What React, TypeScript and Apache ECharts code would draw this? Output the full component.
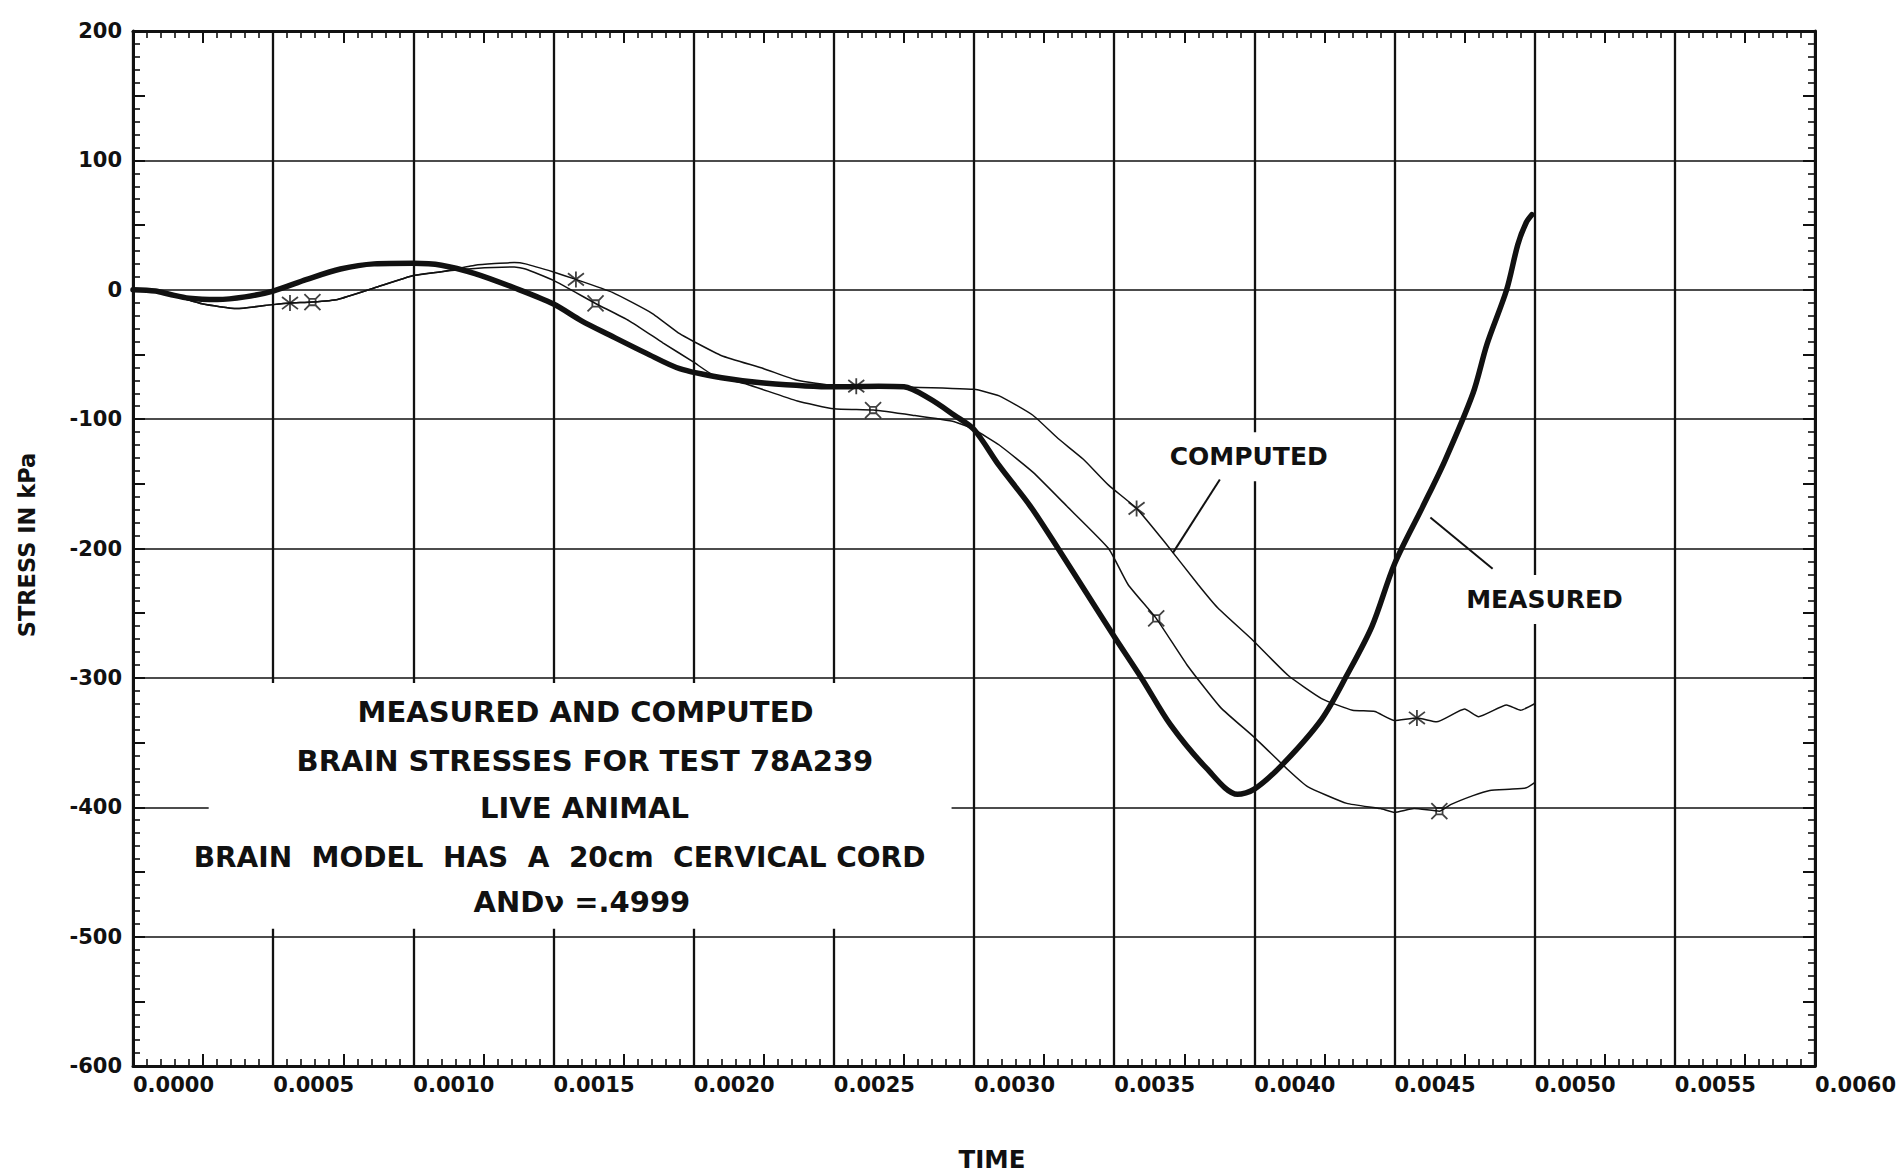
import React, { useEffect, useRef } from "react";
import * as echarts from "echarts";

// ---- axis ranges / ticks ----
const X_MIN = 0;
const X_MAX = 0.006;
const X_STEP = 0.0005;
const Y_MIN = -600;
const Y_MAX = 200;
const Y_STEP = 100;

// ---- MEASURED (thick line) ----
const measuredT = [0, 0.00008, 0.00013, 0.0002, 0.0003, 0.0004, 0.0005, 0.00062, 0.00074, 0.00086, 0.001, 0.0011, 0.00122, 0.00136, 0.0015, 0.0016, 0.0017, 0.00183, 0.00195, 0.0021, 0.00225, 0.0025, 0.00266, 0.00275, 0.00284, 0.00293, 0.003, 0.00309, 0.0032, 0.0033, 0.0034, 0.0035, 0.0036, 0.0037, 0.00383, 0.00394, 0.004, 0.0041, 0.00424, 0.00433, 0.00442, 0.0045, 0.0046, 0.00468, 0.00478, 0.00483, 0.0049, 0.00494, 0.00497, 0.00499];
const measuredV = [0, -1, -3.5, -6.5, -7.5, -5.5, -1, 8, 16, 20, 20.5, 19, 12.5, 1.5, -11, -24, -35, -49, -61, -68, -72, -75, -74.5, -75, -84, -97, -108, -136, -167, -200, -234, -268, -301, -336, -370, -390, -386, -367, -332, -298, -260, -212, -168, -132, -80, -42, 0, 35, 52, 58];

// ---- COMPUTED, curve with asterisk marks ----
const computedAT = [0, 0.00008, 0.00013, 0.00025, 0.00037, 0.0005, 0.00056, 0.00064, 0.00073, 0.00086, 0.001, 0.0011, 0.00122, 0.00136, 0.0014, 0.0015, 0.00158, 0.00171, 0.00185, 0.00195, 0.002, 0.0021, 0.00225, 0.00237, 0.0025, 0.00258, 0.00274, 0.003, 0.00309, 0.00321, 0.0033, 0.00339, 0.00348, 0.00358, 0.00368, 0.0038, 0.00387, 0.00399, 0.00412, 0.00424, 0.00435, 0.00443, 0.0045, 0.00458, 0.00465, 0.00475, 0.0048, 0.0049, 0.00495, 0.005];
const computedAV = [0, -1, -3.5, -11, -14.5, -11.5, -10.3, -9.5, -7.5, 1.3, 11, 14, 19, 21, 20, 13.7, 8, -2, -18, -34, -40, -51, -61, -70, -74, -74.5, -75, -77, -82, -97, -115, -131, -151, -169, -195, -228, -246, -270, -298, -316, -325, -326, -333, -331, -334, -324, -330, -321, -325, -320];
const markerAT = [0.00056, 0.00158, 0.00258, 0.00358, 0.00458];
const markerAV = [-10.3, 8, -74.5, -169, -331];

// ---- COMPUTED, curve with square marks ----
const computedBT = [0, 0.00008, 0.00013, 0.00025, 0.00037, 0.0005, 0.00056, 0.00064, 0.00073, 0.00086, 0.001, 0.0011, 0.00122, 0.00136, 0.0014, 0.0015, 0.00165, 0.00177, 0.00189, 0.002, 0.00207, 0.00219, 0.00237, 0.0025, 0.00264, 0.00278, 0.00293, 0.003, 0.00309, 0.00321, 0.00333, 0.00348, 0.00355, 0.00365, 0.00376, 0.00388, 0.004, 0.00412, 0.00419, 0.00433, 0.00445, 0.0045, 0.00457, 0.00466, 0.0047, 0.00478, 0.00484, 0.00491, 0.00497, 0.005];
const computedBV = [0, -1, -3.5, -11, -14.5, -11.5, -10.3, -9.5, -7.5, 1.3, 11, 14, 16.5, 17.6, 16, 7.2, -10.6, -24, -41, -56, -66, -73, -86, -92, -93, -97, -102, -108, -120, -141, -167, -200, -228, -254, -290, -323, -346, -371, -384, -397, -401, -404, -401, -403, -398, -391, -387, -386, -385, -381];
const markerBT = [0.00064, 0.00165, 0.00264, 0.00365, 0.00466];
const markerBV = [-9.5, -10.6, -93, -254, -403];

// ---- texts ----
const titleLines = [
  "MEASURED AND COMPUTED",
  "BRAIN STRESSES FOR TEST 78A239",
  "LIVE ANIMAL",
  "BRAIN  MODEL  HAS  A  20cm  CERVICAL CORD",
  "ANDν =.4999",
];
const yTitle = "STRESS IN kPa";
const xTitle = "TIME";
const computedLabel = "COMPUTED";
const measuredLabel = "MEASURED";

const INK = "#111";
const FONT = "DejaVu Sans";

const zip = (a: number[], b: number[]) => a.map((t, i) => [t, b[i]]);

const ASTERISK = "path://M5,0L5,10M1.2,1.2L8.8,8.8M1.2,8.8L8.8,1.2";
const SQUARE = "path://M3,3L7,3L7,7L3,7ZM0,0L3,3M10,0L7,3M0,10L3,7M10,10L7,7";

function xAxisBase(pos: "top" | "bottom", interval: number, extra: any) {
  return {
    type: "value",
    position: pos,
    min: X_MIN,
    max: X_MAX,
    interval,
    axisLine: { show: false, onZero: false },
    axisLabel: { show: false },
    splitLine: { show: false },
    axisTick: { show: false },
    minorTick: { show: false },
    ...extra,
  };
}
function yAxisBase(pos: "left" | "right", interval: number, extra: any) {
  return {
    type: "value",
    position: pos,
    min: Y_MIN,
    max: Y_MAX,
    interval,
    axisLine: { show: false, onZero: false },
    axisLabel: { show: false },
    splitLine: { show: false },
    axisTick: { show: false },
    minorTick: { show: false },
    ...extra,
  };
}

export default function App() {
  const ref = useRef<HTMLDivElement>(null);

  useEffect(() => {
    if (!ref.current) return;
    const chart = echarts.init(ref.current, null, { renderer: "svg" });

    const mainTick = { show: true, inside: true, length: 10, lineStyle: { color: INK, width: 2 } };
    const minor = { show: true, splitNumber: 10, length: 7, lineStyle: { color: INK, width: 1.6 } };
    const midTick = { show: true, inside: true, length: 12, lineStyle: { color: INK, width: 2 } };
    const axLine = { show: true, onZero: false, lineStyle: { color: INK, width: 3 } };
    const hidden = { show: false, onZero: false };

    const option: any = {
      animation: false,
      backgroundColor: "#ffffff",
      grid: { left: 133, right: 86, top: 31, bottom: 107, containLabel: false },
      xAxis: [
        xAxisBase("bottom", X_STEP, {
          axisLine: axLine,
          axisTick: mainTick,
          minorTick: minor,
          splitLine: { show: true, lineStyle: { color: INK, width: 2.3 } },
          axisLabel: {
            show: true,
            align: "left",
            margin: 8,
            color: INK,
            fontFamily: FONT,
            fontWeight: "bold",
            fontSize: 21,
            formatter: (v: number) => v.toFixed(4),
          },
        }),
        xAxisBase("top", X_STEP, { axisLine: axLine, axisTick: mainTick, minorTick: minor }),
        xAxisBase("bottom", X_STEP / 2, { axisLine: hidden, axisTick: midTick }),
        xAxisBase("top", X_STEP / 2, { axisLine: hidden, axisTick: midTick }),
      ],
      yAxis: [
        yAxisBase("left", Y_STEP, {
          axisLine: axLine,
          axisTick: mainTick,
          minorTick: minor,
          splitLine: { show: true, lineStyle: { color: INK, width: 1.6 } },
          axisLabel: {
            show: true,
            margin: 11,
            color: INK,
            fontFamily: FONT,
            fontWeight: "bold",
            fontSize: 21,
            formatter: (v: number) => String(v),
          },
        }),
        yAxisBase("right", Y_STEP, { axisLine: axLine, axisTick: mainTick, minorTick: minor }),
        yAxisBase("left", Y_STEP / 2, { axisLine: hidden, axisTick: midTick }),
        yAxisBase("right", Y_STEP / 2, { axisLine: hidden, axisTick: midTick }),
      ],
      series: [
        {
          name: "COMPUTED A",
          type: "line",
          xAxisIndex: 0,
          yAxisIndex: 0,
          data: zip(computedAT, computedAV),
          showSymbol: false,
          smooth: 0.15,
          lineStyle: { color: INK, width: 1.5 },
          z: 3,
        },
        {
          name: "COMPUTED B",
          type: "line",
          xAxisIndex: 0,
          yAxisIndex: 0,
          data: zip(computedBT, computedBV),
          showSymbol: false,
          smooth: 0.15,
          lineStyle: { color: INK, width: 1.5 },
          z: 3,
        },
        {
          name: "MEASURED",
          type: "line",
          xAxisIndex: 0,
          yAxisIndex: 0,
          data: zip(measuredT, measuredV),
          showSymbol: false,
          smooth: 0.3,
          lineStyle: { color: INK, width: 5.5, cap: "round", join: "round" },
          z: 4,
        },
        {
          name: "A marks",
          type: "scatter",
          xAxisIndex: 0,
          yAxisIndex: 0,
          data: zip(markerAT, markerAV),
          symbol: ASTERISK,
          symbolSize: 16,
          itemStyle: { color: "rgba(0,0,0,0)", borderColor: INK, borderWidth: 1.8 },
          z: 5,
        },
        {
          name: "B marks",
          type: "scatter",
          xAxisIndex: 0,
          yAxisIndex: 0,
          data: zip(markerBT, markerBV),
          symbol: SQUARE,
          symbolSize: 16,
          itemStyle: { color: "rgba(0,0,0,0)", borderColor: INK, borderWidth: 1.8 },
          z: 5,
        },
      ],
    };
    chart.setOption(option);

    const px = (t: number, v: number) =>
      chart.convertToPixel({ seriesIndex: 0 }, [t, v]) as number[];

    const boxA = px(0.00027, -304);
    const boxB = px(0.00292, -494);
    const anchor = px(0.0016, -400);
    const lineOffsets = [
      [4, -95.6],
      [3.4, -46.6],
      [3, 0.4],
      [-22, 50.4],
      [0.4, 94.4],
    ];
    const cLab = px(0.00398, -129);
    const mLab = px(0.005035, -239.5);
    const cP1 = px(0.003877, -146.6);
    const cP2 = px(0.003709, -203.6);
    const mP1 = px(0.004628, -176);
    const mP2 = px(0.00485, -215.6);

    const labelStyle = (text: string) => ({
      text,
      fill: INK,
      font: `bold 25px "${FONT}"`,
      align: "center",
      verticalAlign: "middle",
      backgroundColor: "#ffffff",
      padding: [12, 6],
    });

    const graphic: any[] = [
      {
        type: "rect",
        z: 20,
        silent: true,
        shape: { x: boxA[0], y: boxA[1], width: boxB[0] - boxA[0], height: boxB[1] - boxA[1] },
        style: { fill: "#ffffff" },
      },
      ...titleLines.map((txt, i) => ({
        type: "text",
        z: 21,
        silent: true,
        x: anchor[0] + lineOffsets[i][0],
        y: anchor[1] + lineOffsets[i][1],
        style: {
          text: txt,
          fill: INK,
          font: `bold ${i === 3 ? 28 : 29}px "${FONT}"`,
          align: "center",
          verticalAlign: "middle",
        },
      })),
      { type: "text", z: 21, silent: true, x: cLab[0], y: cLab[1], style: labelStyle(computedLabel) },
      { type: "text", z: 21, silent: true, x: mLab[0], y: mLab[1], style: labelStyle(measuredLabel) },
      {
        type: "line",
        z: 21,
        silent: true,
        shape: { x1: cP1[0], y1: cP1[1], x2: cP2[0], y2: cP2[1] },
        style: { stroke: INK, lineWidth: 2 },
      },
      {
        type: "line",
        z: 21,
        silent: true,
        shape: { x1: mP1[0], y1: mP1[1], x2: mP2[0], y2: mP2[1] },
        style: { stroke: INK, lineWidth: 2 },
      },
      {
        type: "text",
        z: 21,
        silent: true,
        x: 27,
        y: 545,
        rotation: Math.PI / 2,
        style: {
          text: yTitle,
          fill: INK,
          font: `bold 22.5px "${FONT}"`,
          align: "center",
          verticalAlign: "middle",
        },
      },
      {
        type: "text",
        z: 21,
        silent: true,
        x: 992,
        y: 1159,
        style: {
          text: xTitle,
          fill: INK,
          font: `bold 24.5px "${FONT}"`,
          align: "center",
          verticalAlign: "middle",
        },
      },
    ];
    chart.setOption({ graphic });

    return () => chart.dispose();
  }, []);

  return (
    <div
      ref={ref}
      style={{
        position: "fixed",
        left: 0,
        top: 0,
        width: 1901,
        height: 1173,
        background: "#ffffff",
      }}
    />
  );
}
